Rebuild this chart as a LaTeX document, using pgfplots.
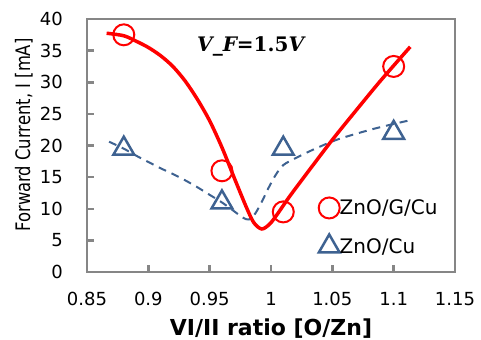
\documentclass[border=0pt]{standalone}
\usepackage{fontspec}
\setmainfont{DejaVu Sans}
\newfontfamily\labelfont[FakeStretch=0.82]{DejaVu Sans}
\newfontfamily\notefont{DejaVu Serif}
\usepackage{pgfplots}
\pgfplotsset{compat=1.18}
\definecolor{curvered}{RGB}{255,0,0}
\definecolor{cublue}{RGB}{62,98,145}
\definecolor{framegray}{RGB}{134,134,134}
\pgfplotsset{markonly legend/.style={
  legend image code/.code={\draw[##1] plot coordinates {(0bp,0bp)};}}}

\begin{document}
\begin{tikzpicture}
\begin{axis}[
  at={(0,0)}, anchor=south west,
  scale only axis, width=368bp, height=253bp,
  xmin=0.85, xmax=1.15, ymin=0, ymax=40,
  xtick={0.85,0.9,0.95,1,1.05,1.1,1.15},
  xticklabels={0.85,0.9,0.95,1,1.05,1.1,1.15},
  ytick={0,5,...,40},
  xtick pos=bottom, ytick pos=left, tick align=inside,
  major tick length=7bp,
  tick style={framegray, line width=2.5bp},
  axis line style={framegray, line width=2.5bp},
  /pgf/number format/assume math mode=true,
  tick label style={font=\fontsize{18bp}{20bp}\selectfont, inner sep=0bp},
  xticklabel style={anchor=north, yshift=-20bp},
  yticklabel style={anchor=east, xshift=-24bp},
  xlabel={VI/II ratio [O/Zn]},
  xlabel style={font=\fontsize{22bp}{24bp}\selectfont\bfseries,
    at={(axis description cs:0.5,-0.186)}, anchor=north, inner sep=0bp},
  ylabel={Forward Current, I [mA]},
  ylabel style={font=\labelfont\fontsize{20bp}{22bp}\selectfont,
    at={(axis description cs:-0.147,0.5415)}, anchor=south, inner sep=0bp},
  legend style={draw=none, fill=none,
    at={(axis description cs:0.621,0.06)}, anchor=south west,
    font=\fontsize{20bp}{22bp}\selectfont,
    row sep=16bp, column sep=0bp, nodes={inner sep=0bp}},
  legend cell align=left,
  clip=false,
]

% ZnO/Cu trend (dashed)
\addplot[cublue, line width=2bp, dash pattern=on 8bp off 6bp, smooth, tension=0.5, forget plot]
  coordinates {
  (0.868,20.6) (0.88,19.5) (0.89,18.4) (0.90,17.4) (0.91,16.4)
  (0.92,15.5) (0.93,14.5) (0.94,13.4) (0.95,12.2) (0.96,11.0)
  (0.97,9.6) (0.977,8.6) (0.982,8.3) (0.987,9.2) (0.9925,11.1)
  (0.998,13.3) (1.004,15.4) (1.01,16.9) (1.02,18.0) (1.035,19.4)
  (1.055,21.0) (1.085,22.7) (1.1135,24.0)
  };

% ZnO/G/Cu trend (solid)
\addplot[curvered, line width=3.5bp, smooth, tension=0.5, forget plot]
  coordinates {
  (0.866,37.75) (0.88,37.35) (0.89,36.5) (0.90,35.5) (0.91,34.2)
  (0.92,32.5) (0.93,30.2) (0.94,27.3) (0.95,23.9) (0.96,19.7)
  (0.97,14.9) (0.98,10.2) (0.986,7.8) (0.9925,6.8) (0.999,7.6)
  (1.005,9.1) (1.015,11.9) (1.03,15.8) (1.05,20.9) (1.07,25.7)
  (1.09,30.4) (1.1135,35.6)
  };

% measured points
\addplot[only marks, mark=o, mark size=10.5bp,
  mark options={draw=curvered, fill=white, line width=2bp}, markonly legend]
  coordinates {(0.88,37.5) (0.96,16) (1.01,9.5) (1.1,32.5)};
\addlegendentry{ZnO/G/Cu}

\addplot[only marks, mark=triangle, mark size=12bp,
  mark options={draw=cublue, fill=white, line width=2.5bp}, markonly legend]
  coordinates {(0.88,19.5) (0.96,11) (1.01,19.5) (1.1,22)};
\addlegendentry{ZnO/Cu}

\node[anchor=base west, inner sep=0bp, font=\notefont\fontsize{20bp}{22bp}\selectfont]
  at (axis cs:0.9397,34.9)
  {\bfseries\itshape V\_F\upshape=1.5\itshape V};
\end{axis}
\pgfresetboundingbox
\path[use as bounding box] (-87bp,-68bp) rectangle (394bp,272bp);
\end{tikzpicture}
\end{document}
